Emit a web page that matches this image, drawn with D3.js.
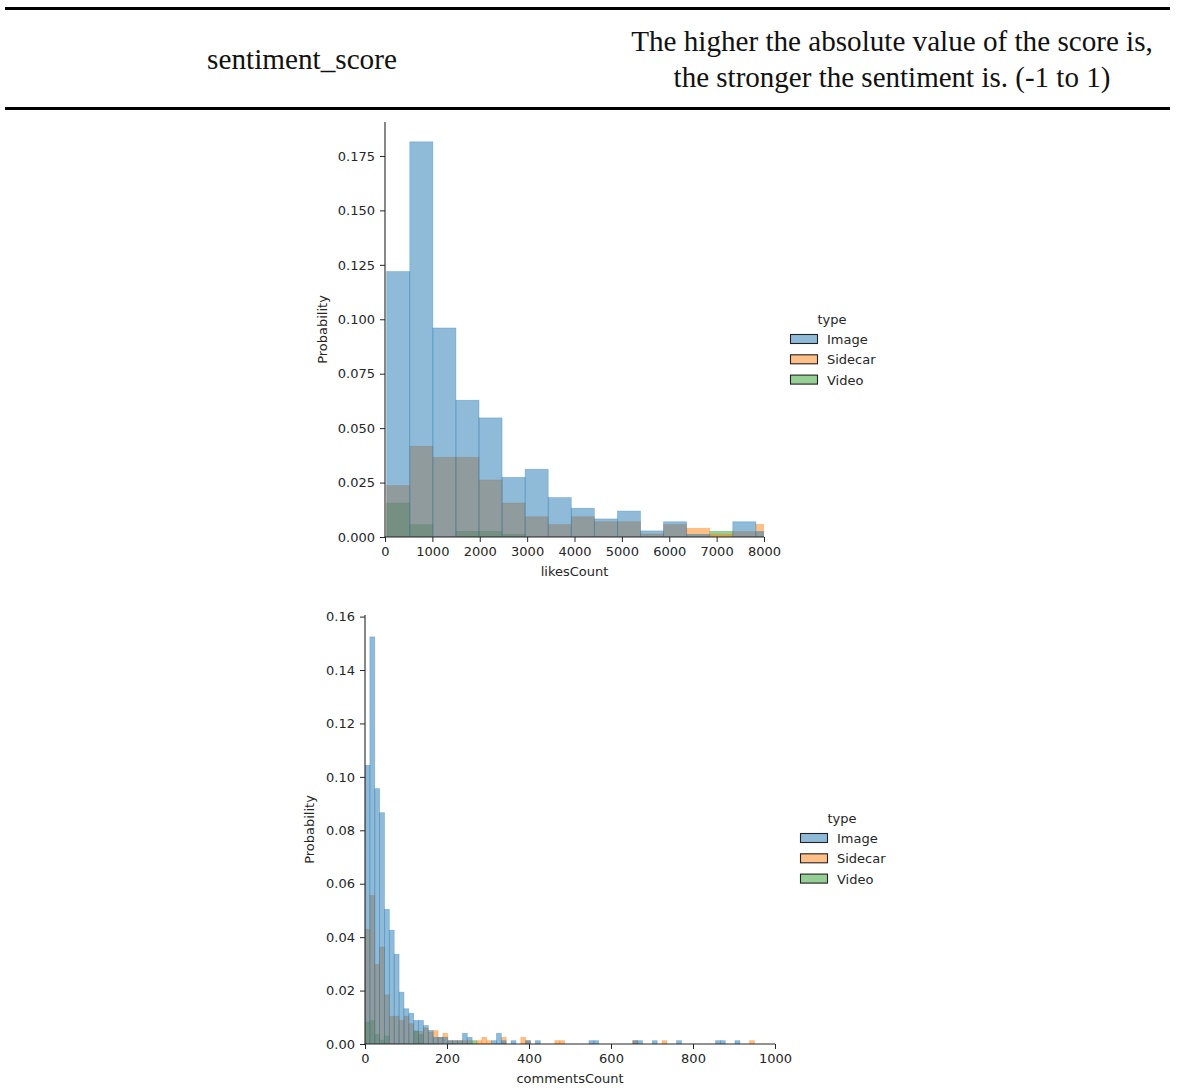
<!DOCTYPE html>
<html>
<head>
<meta charset="utf-8">
<script src="https://cdn.jsdelivr.net/npm/d3@7"></script>
<style>
  html, body { margin: 0; padding: 0; background: #fff; }
  svg { display: block; }
</style>
</head>
<body>
<svg id="chart" width="1183" height="1088"></svg>
<script>
// ---------------- DATA ----------------
const types = ["Image", "Sidecar", "Video"];
const typeColors = ["#1f77b4", "#ff7f0e", "#2ca02c"];

const tableTerm = "sentiment_score";
const tableDescription = ["The higher the absolute value of the score is,", "the stronger the sentiment is. (-1 to 1)"];

// likesCount histogram (probability), 17 bins
const likesBinStart = 36;
const likesBinWidth = 487;
const likesImage   = [0.1219, 0.1815, 0.0960, 0.0628, 0.0547, 0.0274, 0.0311, 0.0181, 0.0132, 0.0083, 0.0119, 0.0028, 0.0070, 0.0012, 0.0000, 0.0070, 0.0025];
const likesSidecar = [0.0236, 0.0417, 0.0366, 0.0366, 0.0262, 0.0156, 0.0093, 0.0057, 0.0093, 0.0070, 0.0070, 0.0014, 0.0057, 0.0040, 0.0012, 0.0025, 0.0058];
const likesVideo   = [0.0156, 0.0057, 0.0000, 0.0026, 0.0026, 0.0012, 0.0000, 0.0000, 0.0000, 0.0000, 0.0000, 0.0000, 0.0000, 0.0000, 0.0026, 0.0000, 0.0000];
const likesXTicks = [0, 1000, 2000, 3000, 4000, 5000, 6000, 7000, 8000];
const likesYTicks = [0, 0.025, 0.05, 0.075, 0.1, 0.125, 0.15, 0.175];

// commentsCount histogram (probability), 80 bins
const commentsBinStart = 0;
const commentsBinWidth = 11.875;
const commentsImage = [
  0.1043, 0.1524, 0.0956, 0.0866, 0.0504, 0.0426, 0.0336, 0.0194, 0.0132, 0.0115,
  0.0088, 0.0088, 0.0069, 0.0051, 0.0025, 0.0025, 0.0025, 0.00125, 0.00125, 0.00125,
  0.0040, 0.0025, 0, 0, 0, 0, 0.00125, 0.0040, 0.00125, 0,
  0.00125, 0, 0, 0.00125, 0, 0.00125, 0, 0, 0, 0,
  0, 0, 0, 0, 0, 0, 0.00125, 0.00125, 0, 0,
  0, 0, 0, 0, 0, 0.00125, 0.00125, 0, 0, 0.00125,
  0, 0, 0, 0, 0.00125, 0, 0, 0, 0, 0,
  0, 0, 0.00125, 0.00125, 0, 0, 0.00125, 0, 0, 0
];
const commentsSidecar = [
  0.0429, 0.0556, 0.0298, 0.0363, 0.0184, 0.0104, 0.0104, 0.0088, 0.0104, 0.0076,
  0.0047, 0.0047, 0.0060, 0.0045, 0.0050, 0.0025, 0.0040, 0.00125, 0.00125, 0.00125,
  0.00125, 0.00125, 0, 0.00125, 0.0025, 0.00125, 0, 0, 0.0025, 0,
  0, 0, 0.0025, 0.00125, 0, 0, 0, 0, 0, 0.00125,
  0.00125, 0, 0, 0, 0, 0, 0, 0, 0, 0,
  0, 0, 0, 0, 0, 0.00125, 0, 0, 0, 0,
  0, 0.00125, 0, 0, 0, 0, 0, 0, 0, 0,
  0, 0, 0, 0, 0, 0, 0, 0, 0, 0.00125
];
const commentsVideo = [
  0.0082, 0.0088, 0.0036, 0.0015, 0.0030, 0, 0, 0, 0, 0,
  0.0049, 0.0036, 0, 0, 0, 0, 0, 0, 0, 0,
  0, 0, 0.00125, 0, 0, 0, 0, 0, 0, 0,
  0, 0, 0, 0, 0, 0, 0, 0, 0, 0,
  0, 0, 0, 0, 0, 0, 0, 0, 0, 0,
  0, 0, 0, 0, 0, 0, 0, 0, 0, 0,
  0, 0, 0, 0, 0, 0, 0, 0, 0, 0,
  0, 0, 0, 0, 0, 0, 0, 0, 0, 0
];
const commentsXTicks = [0, 200, 400, 600, 800, 1000];
const commentsYTicks = [0, 0.02, 0.04, 0.06, 0.08, 0.10, 0.12, 0.14, 0.16];

// ---------------- DRAW ----------------
const svg = d3.select("#chart");
const serif = "'Liberation Serif', 'DejaVu Serif', serif";
const sans = "'DejaVu Sans', sans-serif";
const ink = "#262626";
const fs = 13;

// table header block
svg.append("rect").attr("x", 5).attr("y", 7).attr("width", 1165).attr("height", 3).attr("fill", "#000");
svg.append("rect").attr("x", 5).attr("y", 107).attr("width", 1165).attr("height", 3).attr("fill", "#000");

function fitText(sel, targetWidth, baseSize) {
  sel.attr("font-size", baseSize);
  const w = sel.node().getComputedTextLength();
  if (w > 0) sel.attr("font-size", baseSize * targetWidth / w);
}
fitText(svg.append("text").attr("x", 302).attr("y", 69).attr("text-anchor", "middle")
  .attr("font-family", serif).attr("fill", "#111").text(tableTerm), 190, 26);
fitText(svg.append("text").attr("x", 892).attr("y", 51).attr("text-anchor", "middle")
  .attr("font-family", serif).attr("fill", "#111").text(tableDescription[0]), 522, 26);
fitText(svg.append("text").attr("x", 892).attr("y", 87).attr("text-anchor", "middle")
  .attr("font-family", serif).attr("fill", "#111").text(tableDescription[1]), 437, 26);

function drawHist(cfg) {
  const g = svg.append("g");
  const x = d3.scaleLinear().domain(cfg.xDomain).range([cfg.left, cfg.right]);
  const y = d3.scaleLinear().domain(cfg.yDomain).range([cfg.bottom, cfg.top]);

  const clipId = "clip" + cfg.id;
  svg.append("defs").append("clipPath").attr("id", clipId)
    .append("rect").attr("x", cfg.left).attr("y", cfg.top - 5)
    .attr("width", cfg.right - cfg.left).attr("height", cfg.bottom - cfg.top + 5);

  const bars = g.append("g").attr("clip-path", `url(#${clipId})`);
  // seaborn draws hue levels in reverse order (last underneath)
  [2, 1, 0].forEach(ti => {
    const vals = cfg.series[ti];
    const data = vals.map((v, i) => ({
      x0: cfg.binStart + i * cfg.binWidth,
      x1: cfg.binStart + (i + 1) * cfg.binWidth,
      v
    })).filter(d => d.v > 0);
    bars.selectAll(null).data(data).enter().append("rect")
      .attr("x", d => x(d.x0))
      .attr("width", d => x(d.x1) - x(d.x0))
      .attr("y", d => y(d.v))
      .attr("height", d => y(0) - y(d.v))
      .attr("fill", typeColors[ti])
      .attr("fill-opacity", 0.5)
      .attr("stroke", typeColors[ti])
      .attr("stroke-opacity", 0.35)
      .attr("stroke-width", 0.8);
  });

  // axes
  const xAxis = d3.axisBottom(x).tickValues(cfg.xTicks).tickSize(5).tickPadding(5).tickFormat(d3.format("d"));
  const yAxis = d3.axisLeft(y).tickValues(cfg.yTicks).tickSize(5).tickPadding(5).tickFormat(d3.format(cfg.yFormat));
  const gx = g.append("g").attr("transform", `translate(0,${cfg.bottom})`).call(xAxis);
  const gy = g.append("g").attr("transform", `translate(${cfg.left},0)`).call(yAxis);
  [gx, gy].forEach(a => {
    a.select(".domain").remove();
    a.selectAll(".tick line").attr("stroke", ink).attr("stroke-width", 1);
    a.selectAll(".tick text").attr("fill", ink).attr("font-family", sans).attr("font-size", fs);
  });
  // spines
  g.append("line").attr("x1", cfg.left).attr("x2", cfg.left).attr("y1", cfg.top).attr("y2", cfg.bottom + 0.5)
    .attr("stroke", ink).attr("stroke-width", 1.1);
  g.append("line").attr("x1", cfg.left - 0.5).attr("x2", cfg.right).attr("y1", cfg.bottom).attr("y2", cfg.bottom)
    .attr("stroke", ink).attr("stroke-width", 1.1);

  // axis labels
  g.append("text").attr("x", (cfg.left + cfg.right) / 2).attr("y", cfg.bottom + 39)
    .attr("text-anchor", "middle").attr("font-family", sans).attr("font-size", fs).attr("fill", ink)
    .text(cfg.xLabel);
  g.append("text")
    .attr("transform", `translate(${cfg.yLabelX},${(cfg.top + cfg.bottom) / 2}) rotate(-90)`)
    .attr("text-anchor", "middle").attr("font-family", sans).attr("font-size", fs).attr("fill", ink)
    .text("Probability");

  // legend
  const lg = svg.append("g").attr("transform", `translate(${cfg.legendX},${cfg.legendY})`);
  lg.append("text").attr("x", 42).attr("y", 0).attr("text-anchor", "middle")
    .attr("font-family", sans).attr("font-size", fs).attr("fill", ink).text("type");
  types.forEach((t, i) => {
    const row = lg.append("g").attr("transform", `translate(0,${20 + i * 20.3})`);
    row.append("rect").attr("x", 0.5).attr("y", -9.5).attr("width", 27).attr("height", 9)
      .attr("fill", typeColors[i]).attr("fill-opacity", 0.5)
      .attr("stroke", "#222").attr("stroke-width", 1.1);
    row.append("text").attr("x", 37).attr("y", 0).attr("font-family", sans).attr("font-size", fs)
      .attr("fill", ink).text(t);
  });
}

drawHist({
  id: "likes",
  left: 385, right: 764, top: 122, bottom: 537,
  xDomain: [0, 8000], yDomain: [0, 0.1906],
  binStart: likesBinStart, binWidth: likesBinWidth,
  series: [likesImage, likesSidecar, likesVideo],
  xTicks: likesXTicks, yTicks: likesYTicks, yFormat: ".3f",
  xLabel: "likesCount", yLabelX: 327,
  legendX: 790, legendY: 324
});

drawHist({
  id: "comments",
  left: 365, right: 775, top: 615, bottom: 1044,
  xDomain: [0, 1000], yDomain: [0, 0.1606],
  binStart: commentsBinStart, binWidth: commentsBinWidth,
  series: [commentsImage, commentsSidecar, commentsVideo],
  xTicks: commentsXTicks, yTicks: commentsYTicks, yFormat: ".2f",
  xLabel: "commentsCount", yLabelX: 314,
  legendX: 800, legendY: 823
});
</script>
</body>
</html>
